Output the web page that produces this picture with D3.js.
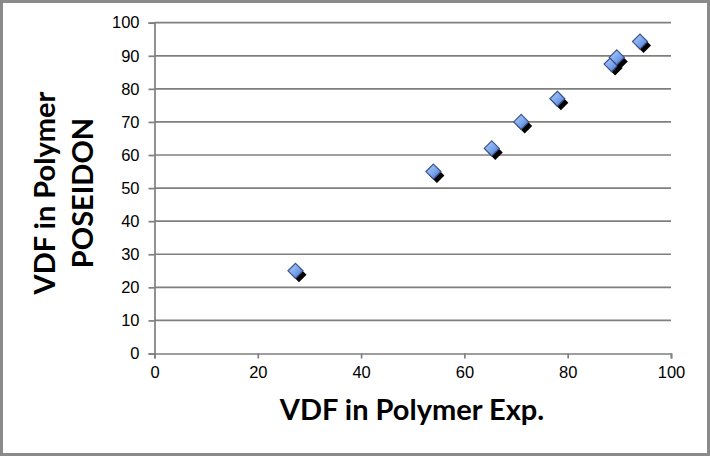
<!DOCTYPE html>
<html>
<head>
<meta charset="utf-8">
<script src="https://cdn.jsdelivr.net/npm/d3@7"></script>
<style>
  html, body { margin: 0; padding: 0; background: #fff; }
  svg { display: block; }
</style>
</head>
<body>
<svg id="chart" width="710" height="456"></svg>
<script>
// Data
const expValues      = [27.3, 54, 65.3, 71, 78, 88.5, 89.5, 94];
const poseidonValues = [25,   55, 62,   70, 77, 87.5, 89.5, 94.3];
const xTickValues = [0, 20, 40, 60, 80, 100];
const yTickValues = [0, 10, 20, 30, 40, 50, 60, 70, 80, 90, 100];
const xTitle = "VDF in Polymer Exp.";
const yTitleLines = ["VDF in Polymer", "POSEIDON"];

const points = expValues.map((x, i) => ({ x, y: poseidonValues[i] }));

const svg = d3.select("#chart");
const W = 710, H = 456;
const margin = { left: 154.5, right: 710 - 671, top: 22.7, bottom: 456 - 353.5 };

// outer border
svg.append("rect")
  .attr("x", 1.5).attr("y", 1.5)
  .attr("width", W - 3).attr("height", H - 3)
  .attr("fill", "#fff")
  .attr("stroke", "#8a8a8a").attr("stroke-width", 3);

const x = d3.scaleLinear().domain([0, 100]).range([margin.left, W - margin.right]);
const y = d3.scaleLinear().domain([0, 100]).range([H - margin.bottom, margin.top]);

const gridColor = "#7f7f7f";
const tickFont = "'Liberation Sans', Arial, sans-serif";

// horizontal gridlines
svg.append("g")
  .selectAll("line")
  .data(yTickValues.filter(d => d !== 0))
  .join("line")
  .attr("x1", x(0)).attr("x2", x(100))
  .attr("y1", d => y(d)).attr("y2", d => y(d))
  .attr("stroke", gridColor).attr("stroke-width", 1.7);

// Y axis
const yAxis = svg.append("g")
  .attr("transform", `translate(${x(0)},0)`)
  .call(d3.axisLeft(y).tickValues(yTickValues).tickSize(6).tickPadding(9).tickFormat(d3.format("d")));
yAxis.select(".domain").attr("stroke", gridColor).attr("stroke-width", 1.7);
yAxis.selectAll(".tick line").attr("stroke", gridColor).attr("stroke-width", 1.7);
yAxis.selectAll("text").attr("font-family", tickFont).attr("font-size", 16.5).attr("fill", "#000");

// X axis
const xAxis = svg.append("g")
  .attr("transform", `translate(0,${y(0)})`)
  .call(d3.axisBottom(x).tickValues(xTickValues).tickSize(5).tickPadding(8).tickFormat(d3.format("d")));
xAxis.select(".domain").attr("stroke", gridColor).attr("stroke-width", 1.7);
xAxis.selectAll(".tick line").attr("stroke", gridColor).attr("stroke-width", 1.7);
xAxis.selectAll("text").attr("font-family", tickFont).attr("font-size", 16.5).attr("fill", "#000");

// gradient for markers
const defs = svg.append("defs");
const grad = defs.append("linearGradient")
  .attr("id", "mk").attr("x1", "0%").attr("y1", "0%").attr("x2", "100%").attr("y2", "100%");
grad.append("stop").attr("offset", "0%").attr("stop-color", "#b4d0fa");
grad.append("stop").attr("offset", "55%").attr("stop-color", "#7aa4ec");
grad.append("stop").attr("offset", "100%").attr("stop-color", "#3f6cc4");

const r = 7.5; // half-diagonal of diamond
const diamond = `M0,${-r} L${r},0 L0,${r} L${-r},0 Z`;

const mk = svg.append("g").selectAll("g")
  .data(points)
  .join("g")
  .attr("transform", d => `translate(${x(d.x)},${y(d.y)})`);

mk.append("path")
  .attr("d", diamond)
  .attr("transform", "translate(3.5,4)")
  .attr("fill", "#000");
mk.append("path")
  .attr("d", diamond)
  .attr("fill", "url(#mk)")
  .attr("stroke", "#3a5288").attr("stroke-width", 1.2);

// axis titles
const titleFont = "Lato, 'Open Sans', sans-serif";
svg.append("text")
  .attr("x", 412).attr("y", 420)
  .attr("text-anchor", "middle")
  .attr("font-family", titleFont).attr("font-weight", "bold")
  .attr("font-size", 29).attr("fill", "#000")
  .text(xTitle);

const yt = svg.append("text")
  .attr("transform", "translate(0,193) rotate(-90)")
  .attr("text-anchor", "middle")
  .attr("font-family", titleFont).attr("font-weight", "bold")
  .attr("font-size", 29).attr("fill", "#000");
yt.selectAll("tspan")
  .data(yTitleLines)
  .join("tspan")
  .attr("x", 0)
  .attr("y", (d, i) => [55, 93][i])
  .text(d => d);
</script>
</body>
</html>
